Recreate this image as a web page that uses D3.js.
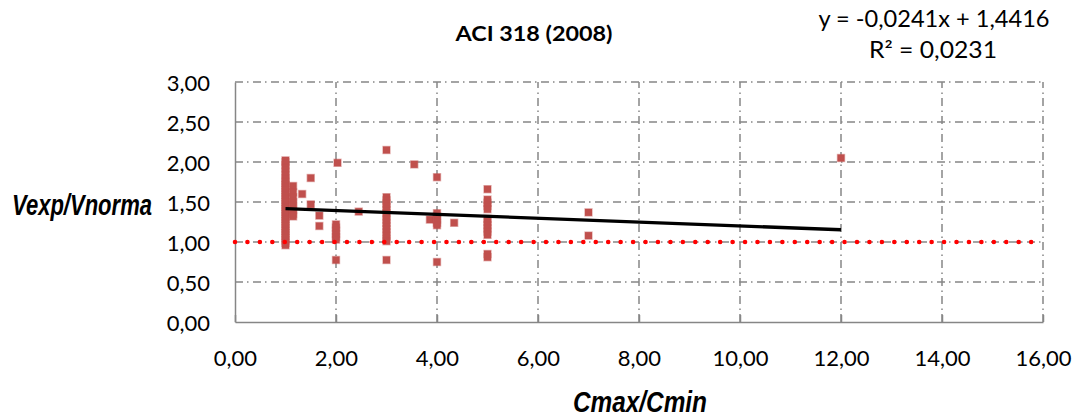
<html>

<head>
    <meta charset="utf-8">
    <style>
        body { margin: 0; background: #fff; }
    </style>
</head>

<body>
    <script src="https://d3js.org/d3.v7.min.js"></script>
    <script>
        // Cmax/Cmin groups and the Vexp/Vnorma values read for each group
        var xValues = [1, 1.15, 1.33, 1.5, 1.67, 2.03, 2.0, 2.45, 3.0, 3.55, 3.86, 4.0, 4.34, 5.0, 7.0, 12.0];
        var yValues = [
            [0.96, 0.99, 1.02, 1.05, 1.08, 1.11, 1.14, 1.17, 1.2, 1.23, 1.26, 1.29, 1.32, 1.35, 1.38, 1.41, 1.44, 1.47, 1.5,
                1.53, 1.56, 1.59, 1.62, 1.65, 1.68, 1.71, 1.74, 1.77, 1.8, 1.84, 1.88, 1.92, 1.96, 2.0, 2.02],
            [1.7, 1.62, 1.56, 1.5, 1.45, 1.4, 1.35, 1.32],
            [1.6],
            [1.8, 1.47],
            [1.33, 1.2],
            [1.99],
            [1.22, 1.18, 1.14, 1.1, 1.06, 1.03, 0.775],
            [1.38],
            [2.15, 1.56, 1.52, 1.48, 1.44, 1.4, 1.36, 1.32, 1.28, 1.24, 1.2, 1.16, 1.12, 1.08, 1.04, 1.01, 0.775],
            [1.97],
            [1.28],
            [1.81, 1.36, 1.32, 1.28, 1.24, 1.21, 0.75],
            [1.24],
            [1.66, 1.53, 1.49, 1.45, 1.41, 1.29, 1.25, 1.21, 1.17, 1.13, 1.09, 0.85, 0.81],
            [1.37, 1.08],
            [2.05]
        ];
        var xTicks = [0, 2, 4, 6, 8, 10, 12, 14, 16];
        var yTicks = [0, 0.5, 1, 1.5, 2, 2.5, 3];
        var refLine = [[0, 1], [16, 1]];          // Vexp/Vnorma = 1
        var trendSlope = -0.0241, trendIntercept = 1.4416, trendR2 = 0.0231;

        var width = 1083, height = 419,
            plotLeft = 235, plotRight = 1043, plotTop = 82, plotBottom = 322,
            gridColor = '#868686';

        var locale = d3.formatLocale({ decimal: ',', thousands: '.', grouping: [3], currency: ['', ''], minus: '-' });
        var fmt2 = locale.format('.2f'), fmt4 = locale.format('.4f');

        var points = xValues.flatMap((x, i) => yValues[i].map(y => ({ x: x, y: y })));

        // scales
        var x = d3.scaleLinear().domain([0, 16]).range([plotLeft, plotRight]);
        var y = d3.scaleLinear().domain([0, 3]).range([plotBottom, plotTop]);

        var svg = d3.select('body')
            .append('svg')
            .attr('width', width)
            .attr('height', height)
            .style('display', 'block');

        // gridlines
        svg.append('g').selectAll('line')
            .data(yTicks.filter(d => d > 0))
            .enter().append('line')
            .attr('x1', x(0)).attr('x2', x(16))
            .attr('y1', d => y(d)).attr('y2', d => y(d))
            .attr('stroke', gridColor).attr('stroke-width', 1.5)
            .attr('stroke-dasharray', '8,4,1.5,4.5');

        svg.append('g').selectAll('line')
            .data(xTicks.filter(d => d > 0))
            .enter().append('line')
            .attr('x1', d => x(d)).attr('x2', d => x(d))
            .attr('y1', y(0)).attr('y2', y(3))
            .attr('stroke', gridColor).attr('stroke-width', 1.5)
            .attr('stroke-dasharray', '8,4,1.5,4.5');

        // axes
        var xAxis = svg.append('g')
            .attr('transform', `translate(0,${plotBottom})`)
            .call(d3.axisBottom(x).tickValues(xTicks).tickFormat(fmt2).tickSize(-7).tickSizeOuter(0).tickPadding(28));
        var yAxis = svg.append('g')
            .attr('transform', `translate(${plotLeft},0)`)
            .call(d3.axisLeft(y).tickValues(yTicks).tickFormat(fmt2).tickSize(0).tickPadding(25));

        [xAxis, yAxis].forEach(a => {
            a.select('.domain').attr('stroke', gridColor).attr('stroke-width', 1.5);
            a.selectAll('.tick line').attr('stroke', gridColor).attr('stroke-width', 1.5);
            a.selectAll('text')
                .attr('fill', '#000')
                .style('font-family', 'Lato, sans-serif')
                .style('font-size', '22px');
        });
        yAxis.selectAll('text').attr('dy', '0.37em');

        // points
        svg.append('g').selectAll('rect')
            .data(points)
            .enter().append('rect')
            .attr('x', d => x(d.x) - 3.5)
            .attr('y', d => y(d.y) - 3.5)
            .attr('width', 7).attr('height', 7)
            .attr('fill', '#c0504d')
            .attr('stroke', '#c0504d').attr('stroke-opacity', 0.45).attr('stroke-width', 1.4);

        // red dotted reference line
        var line = d3.line().x(d => x(d[0])).y(d => y(d[1]));
        svg.append('path')
            .datum(refLine)
            .attr('d', line)
            .attr('fill', 'none')
            .attr('stroke', '#ff0000')
            .attr('stroke-width', 4.6)
            .attr('stroke-linecap', 'round')
            .attr('stroke-dasharray', '0,12.44');

        // linear trend
        var xExt = d3.extent(xValues);
        svg.append('path')
            .datum(xExt.map(v => [v, trendSlope * v + trendIntercept]))
            .attr('d', line)
            .attr('fill', 'none')
            .attr('stroke', '#000')
            .attr('stroke-width', 3.4);

        // title
        svg.append('text')
            .attr('x', 534).attr('y', 40.5)
            .attr('text-anchor', 'middle')
            .attr('textLength', 157).attr('lengthAdjust', 'spacingAndGlyphs')
            .style('font-family', 'Lato, sans-serif')
            .style('font-weight', 'bold')
            .style('font-size', '21px')
            .text('ACI 318 (2008)');

        // trend equation
        var eq = svg.append('g')
            .style('font-family', 'Lato, sans-serif')
            .style('font-size', '22.5px')
            .attr('text-anchor', 'middle');
        eq.append('text').attr('x', 934).attr('y', 27)
            .attr('textLength', 231).attr('lengthAdjust', 'spacingAndGlyphs')
            .text('y = ' + fmt4(trendSlope) + 'x + ' + fmt4(trendIntercept));
        eq.append('text').attr('x', 933).attr('y', 58)
            .attr('textLength', 128).attr('lengthAdjust', 'spacingAndGlyphs')
            .text('R² = ' + fmt4(trendR2));

        // axis titles (narrow bold italic, stretched vertically)
        svg.append('text')
            .attr('transform', 'translate(12,215) scale(1,1.36)')
            .attr('textLength', 140).attr('lengthAdjust', 'spacingAndGlyphs')
            .style('font-family', '"Liberation Sans", Arial, sans-serif')
            .style('font-weight', 'bold').style('font-style', 'italic')
            .style('font-size', '22px')
            .text('Vexp/Vnorma');

        svg.append('text')
            .attr('transform', 'translate(573,411.5) scale(1,1.23)')
            .attr('textLength', 134).attr('lengthAdjust', 'spacingAndGlyphs')
            .style('font-family', '"Liberation Sans", Arial, sans-serif')
            .style('font-weight', 'bold').style('font-style', 'italic')
            .style('font-size', '24.4px')
            .text('Cmax/Cmin');

    </script>
</body>

</html>
